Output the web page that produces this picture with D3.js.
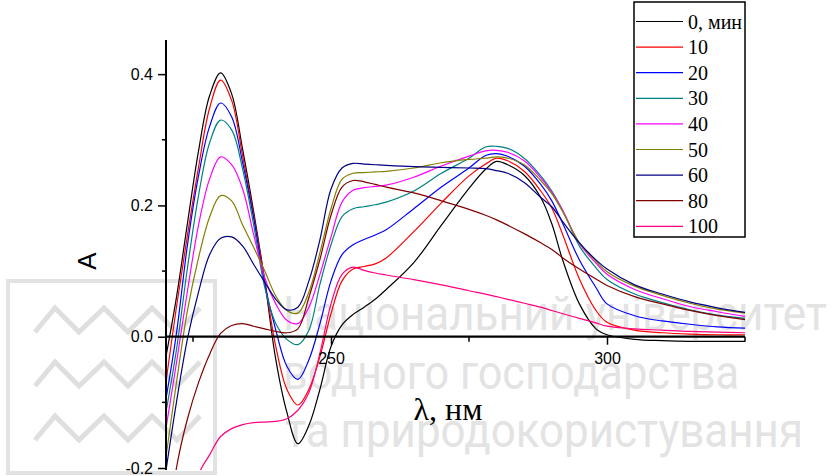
<!DOCTYPE html>
<html><head><meta charset="utf-8">
<script src="https://cdn.jsdelivr.net/npm/d3@7"></script>
<style>body{margin:0;background:#fff}svg{display:block}</style>
</head><body><svg id="c" width="835" height="476"></svg>
<script>
// ---- data ----
const wavelengths = [220,222,224,226,228,230,232,234,236,238,240,242,244,246,248,250,252,254,256,258,260,265,270,275,278,280,282,285,288,290,292,295,298,300,305,310,315,320,325];
const seriesNames = ["0, мин","10","20","30","40","50","60","80","100"];
const seriesColors = ["#000000","#ff0000","#0000ff","#008080","#ff00ff","#808000","#000080","#800000","#ff0080"];
const a0   = [-0.035,0.06,0.173,0.283,0.367,0.402,0.37,0.285,0.19,0.085,-0.035,-0.115,-0.163,-0.135,-0.08,-0.015,0.018,0.034,0.045,0.057,0.072,0.113,0.17,0.226,0.255,0.267,0.262,0.246,0.212,0.172,0.116,0.05,0.012,0.003,-0.004,-0.006,-0.007,-0.007,-0.007];
const a10  = [-0.075,0.045,0.155,0.258,0.348,0.391,0.36,0.275,0.185,0.085,-0.015,-0.08,-0.104,-0.08,-0.03,0.035,0.085,0.103,0.107,0.111,0.12,0.16,0.204,0.245,0.263,0.272,0.268,0.252,0.222,0.196,0.155,0.088,0.04,0.022,0.01,0.006,0.004,0.003,0.003];
const a20  = [-0.1,0.005,0.14,0.245,0.32,0.356,0.335,0.265,0.18,0.08,0.01,-0.045,-0.065,-0.035,0.02,0.085,0.125,0.14,0.148,0.155,0.163,0.195,0.228,0.257,0.276,0.279,0.275,0.26,0.232,0.207,0.172,0.117,0.075,0.05,0.032,0.024,0.019,0.015,0.013];
const a30  = [-0.12,-0.02,0.105,0.215,0.295,0.33,0.315,0.255,0.17,0.075,0.02,-0.004,-0.012,0.01,0.08,0.14,0.183,0.195,0.198,0.201,0.205,0.222,0.249,0.272,0.289,0.29,0.287,0.272,0.245,0.222,0.192,0.138,0.105,0.087,0.065,0.052,0.041,0.033,0.028];
const a40  = [-0.145,-0.04,0.07,0.17,0.24,0.274,0.262,0.225,0.155,0.09,0.05,0.025,0.02,0.045,0.095,0.152,0.205,0.223,0.227,0.229,0.231,0.243,0.26,0.275,0.283,0.284,0.281,0.268,0.242,0.22,0.192,0.142,0.112,0.095,0.072,0.058,0.046,0.038,0.031];
const a50  = [-0.19,-0.07,0.04,0.12,0.182,0.215,0.207,0.17,0.136,0.1,0.062,0.04,0.036,0.068,0.128,0.195,0.24,0.249,0.25,0.251,0.252,0.257,0.265,0.27,0.272,0.274,0.272,0.262,0.238,0.218,0.19,0.143,0.115,0.099,0.077,0.063,0.051,0.042,0.036];
const a60  = [-0.21,-0.1,-0.003,0.068,0.125,0.15,0.152,0.138,0.11,0.083,0.057,0.041,0.045,0.085,0.148,0.225,0.257,0.264,0.263,0.262,0.261,0.259,0.258,0.257,0.256,0.253,0.249,0.235,0.212,0.198,0.175,0.143,0.117,0.103,0.079,0.065,0.053,0.044,0.037];
const a80  = [-0.33,-0.2,-0.125,-0.07,-0.027,0.005,0.017,0.02,0.016,0.012,0.008,0.006,0.012,0.06,0.118,0.185,0.228,0.238,0.236,0.232,0.228,0.219,0.207,0.194,0.185,0.178,0.17,0.157,0.143,0.133,0.12,0.103,0.088,0.078,0.061,0.05,0.04,0.032,0.026];
const a100 = [-0.5,-0.39,-0.29,-0.21,-0.18,-0.152,-0.14,-0.134,-0.131,-0.13,-0.129,-0.125,-0.112,-0.085,-0.025,0.05,0.095,0.106,0.101,0.097,0.094,0.087,0.079,0.07,0.065,0.061,0.057,0.051,0.045,0.04,0.035,0.028,0.021,0.016,0.012,0.01,0.008,0.007,0.006];
const seriesValues = [a0,a10,a20,a30,a40,a50,a60,a80,a100];
const yMajorTicks = [-0.2,0,0.2,0.4];
const yMinorTicks = [-0.1,0.1,0.3];
const xMajorTicks = [250,300];
const xMinorTicks = [225,275,325];
const xDomain = [220,325];
const yDomain = [-0.2,0.452];
const xTitle = "λ, нм";
const yTitle = "A";
const wmLines = ["Національний університет","водного господарства","та природокористування"];

// ---- drawing ----
const svg = d3.select("#c");
const x = d3.scaleLinear().domain(xDomain).range([165.4,745]);
const y = d3.scaleLinear().domain(yDomain).range([468,40]);

// watermark (behind)
const wm = svg.append("g").attr("class","watermark");
wm.append("rect").attr("x",8).attr("y",281).attr("width",207).attr("height",192)
  .attr("fill","none").attr("stroke","#e2e2e2").attr("stroke-width",4);
[0,1,2].forEach(i=>{
  const by = 332 + i*54, ty = by-24;
  const pts = [[35,by],[55,ty],[79,by],[104,ty],[128,by],[152,ty],[177,by],[200,ty]];
  wm.append("path").attr("d",d3.line()(pts)).attr("fill","none")
    .attr("stroke","#dfdfdf").attr("stroke-width",5);
});
const wmPos = [[283,330,544],[283,389,456],[285,447,518]];
wmLines.forEach((t,i)=>{
  wm.append("text").attr("x",wmPos[i][0]).attr("y",wmPos[i][1])
    .attr("textLength",wmPos[i][2]).attr("lengthAdjust","spacingAndGlyphs")
    .attr("font-family","Roboto, 'Liberation Sans', sans-serif").attr("font-size",48)
    .attr("fill","#e3e3e3").text(t);
});

// clip
svg.append("clipPath").attr("id","clip").append("rect")
  .attr("x",x(xDomain[0])).attr("y",y(yDomain[1])).attr("width",x(xDomain[1])-x(xDomain[0])).attr("height",y(yDomain[0])-y(yDomain[1])+2);

const line = d3.line().x((d,i)=>x(wavelengths[i])).y(d=>y(d)).curve(d3.curveCatmullRom.alpha(0.5));
const gLines = svg.append("g").attr("clip-path","url(#clip)");
seriesValues.forEach((vals,k)=>{
  gLines.append("path").attr("d",line(vals)).attr("fill","none")
    .attr("stroke",seriesColors[k]).attr("stroke-width",1.2);
});

// y axis
const fmt = d=>d.toFixed(1);
const gy = svg.append("g").attr("transform",`translate(${x(xDomain[0])+0.6},0)`);
gy.call(d3.axisLeft(y).tickValues(yMajorTicks).tickSize(8).tickPadding(5).tickFormat(fmt));
gy.select(".domain").remove();
gy.selectAll(".tick line").attr("stroke-width",1.5);
gy.selectAll(".tick text").attr("font-family","'Liberation Sans', Arial, sans-serif").attr("font-size",16).attr("fill","#000");
gy.selectAll(".minor").data(yMinorTicks).enter().append("line")
  .attr("x1",-4).attr("x2",0).attr("y1",d=>y(d)).attr("y2",d=>y(d)).attr("stroke","#000").attr("stroke-width",1.5);
gy.append("line").attr("x1",0).attr("x2",0).attr("y1",y(yDomain[1])).attr("y2",y(yDomain[0])+2)
  .attr("stroke","#000").attr("stroke-width",2);

// x axis on zero
const gx = svg.append("g").attr("transform",`translate(0,${y(0)})`);
gx.call(d3.axisBottom(x).tickValues(xMajorTicks).tickSize(8).tickPadding(8).tickFormat(d3.format("d")));
gx.select(".domain").remove();
gx.selectAll(".tick line").attr("stroke-width",1.5);
gx.selectAll(".tick text").attr("font-family","'Liberation Sans', Arial, sans-serif").attr("font-size",16).attr("fill","#000");
gx.selectAll(".minor").data(xMinorTicks).enter().append("line")
  .attr("x1",d=>x(d)).attr("x2",d=>x(d)).attr("y1",0).attr("y2",5).attr("stroke","#000").attr("stroke-width",1.5);
gx.append("line").attr("x1",x(xDomain[0])).attr("x2",x(xDomain[1])).attr("y1",0).attr("y2",0)
  .attr("stroke","#000").attr("stroke-width",2.2);

// titles
svg.append("text").attr("x",448).attr("y",420).attr("text-anchor","middle")
  .attr("font-family","'Liberation Serif','Times New Roman',serif").attr("font-size",32).text(xTitle);
svg.append("text").attr("transform","translate(96,261) rotate(-90)").attr("text-anchor","middle")
  .attr("font-family","'Liberation Sans', Arial, sans-serif").attr("font-size",26).text(yTitle);

// legend
const lg = svg.append("g");
lg.append("rect").attr("x",634).attr("y",2).attr("width",111).attr("height",235)
  .attr("fill","#fff").attr("stroke","#000").attr("stroke-width",1.5);
seriesNames.forEach((n,k)=>{
  const ly = 21.5 + k*25.6;
  lg.append("line").attr("x1",636).attr("x2",683).attr("y1",ly).attr("y2",ly)
    .attr("stroke",seriesColors[k]).attr("stroke-width",1.2);
  lg.append("text").attr("x",688).attr("y",ly+7).attr("font-family","'Liberation Serif','Times New Roman',serif")
    .attr("font-size",20).text(n);
});
</script></body></html>
